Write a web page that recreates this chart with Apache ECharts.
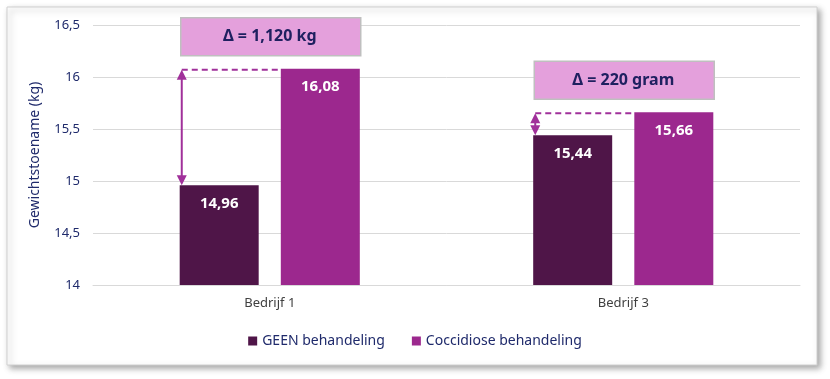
<!DOCTYPE html>
<html><head><meta charset="utf-8">
<script src="https://cdn.jsdelivr.net/npm/echarts@6/dist/echarts.min.js"></script>
<style>html,body{margin:0;padding:0;background:#fff}#c{width:830px;height:379px}</style>
</head><body><div id="c"></div>
<script>
const categories = ['Bedrijf 1', 'Bedrijf 3'];
const seriesNames = ['GEEN behandeling', 'Coccidiose behandeling'];
const geenValues = [14.96, 15.44];
const coccValues = [16.08, 15.66];
const deltaLabels = ['Δ = 1,120 kg', 'Δ = 220 gram'];
const yTicks = [14, 14.5, 15, 15.5, 16, 16.5];

const navy = '#1f2a6b';
const font = 'Noto Sans';
const annData = categories.map((c, i) => [i, geenValues[i], coccValues[i], deltaLabels[i]]);

const chart = echarts.init(document.getElementById('c'));
chart.setOption({
  animation: false,
  backgroundColor: '#fff',
  textStyle: {fontFamily: font},
  graphic: [{
    type: 'rect', z: -10, silent: true,
    shape: {x: 7, y: 7, width: 810, height: 358},
    style: {fill: '#fff', stroke: '#d0d0d0', lineWidth: 1, shadowBlur: 6, shadowOffsetX: 3, shadowOffsetY: 3, shadowColor: 'rgba(0,0,0,0.35)'}
  }],
  grid: {left: 93, right: 30, top: 25, bottom: 94},
  legend: {
    data: seriesNames, bottom: 26, left: 'center', itemWidth: 9, itemHeight: 9, itemGap: 27,
    icon: 'rect', textStyle: {color: navy, fontSize: 14, fontFamily: font}
  },
  xAxis: {
    type: 'category', data: categories,
    axisLine: {lineStyle: {color: '#d9d9d9'}}, axisTick: {show: false},
    axisLabel: {color: '#404040', fontSize: 13, margin: 12}
  },
  yAxis: {
    type: 'value', min: yTicks[0], max: yTicks[yTicks.length - 1], interval: 0.5,
    name: 'Gewichtstoename (kg)', nameLocation: 'middle', nameGap: 51,
    nameTextStyle: {color: navy, fontSize: 14, fontFamily: font},
    axisLine: {show: false}, axisTick: {show: false},
    splitLine: {lineStyle: {color: '#d9d9d9'}},
    axisLabel: {color: navy, fontSize: 13, margin: 13, formatter: v => String(v).replace('.', ',')}
  },
  series: [
    {
      name: seriesNames[0], type: 'bar', data: geenValues, barWidth: 79, barGap: '28%',
      itemStyle: {color: '#4f1548'},
      label: {show: true, position: 'insideTop', distance: 11, color: '#fff', fontWeight: 'bold', fontSize: 15,
        formatter: p => p.value.toFixed(2).replace('.', ',')}
    },
    {
      name: seriesNames[1], type: 'bar', data: coccValues, barWidth: 79,
      itemStyle: {color: '#9c288e'},
      label: {show: true, position: 'insideTop', distance: 11, color: '#fff', fontWeight: 'bold', fontSize: 15,
        formatter: p => p.value.toFixed(2).replace('.', ',')}
    },
    {
      type: 'custom', data: annData, z: 10, silent: true,
      encode: {x: 0, y: [1, 2]},
      renderItem: (params, api) => {
        const i = api.value(0);
        const low = api.coord([i, api.value(1)]);
        const high = api.coord([i, api.value(2)]);
        const cx = low[0];
        const left = cx - 90, right = cx + 90;
        const ax = left + 2;
        const col = '#a0309a';
        const ah = 9, aw = 5;
        const boxBottom = high[1] - 13, boxH = 38;
        return {
          type: 'group', children: [
            {type: 'line', shape: {x1: ax, y1: high[1] + 1, x2: cx + 11, y2: high[1] + 1},
              style: {stroke: col, lineWidth: 2, lineDash: [6, 4]}},
            {type: 'line', shape: {x1: ax, y1: high[1] + ah, x2: ax, y2: low[1] - ah},
              style: {stroke: col, lineWidth: 2}},
            {type: 'polygon', shape: {points: [[ax, high[1] + 1], [ax - aw, high[1] + ah + 2], [ax + aw, high[1] + ah + 2]]},
              style: {fill: col}},
            {type: 'polygon', shape: {points: [[ax, low[1]], [ax - aw, low[1] - ah - 1], [ax + aw, low[1] - ah - 1]]},
              style: {fill: col}},
            {type: 'rect', shape: {x: left + 1, y: boxBottom - boxH, width: right - left, height: boxH},
              style: {fill: '#e4a0dc', stroke: '#bfbfbf', lineWidth: 1.5}},
            {type: 'text', x: cx, y: boxBottom - boxH / 2,
              style: {text: api.value(3), fill: '#1f2060', font: 'bold 16px "Noto Sans"', align: 'center', verticalAlign: 'middle'}}
          ]
        };
      }
    }
  ]
});
</script></body></html>
